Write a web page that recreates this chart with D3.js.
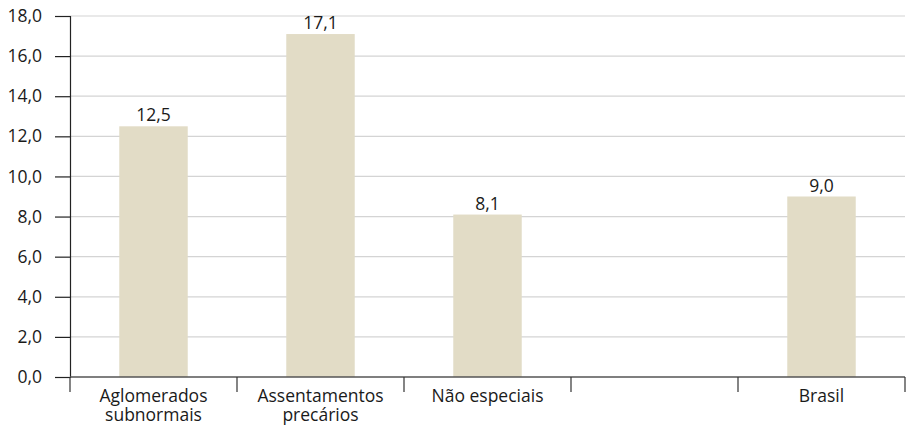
<!DOCTYPE html>
<html>
<head>
<meta charset="utf-8">
<script src="https://cdn.jsdelivr.net/npm/d3@7"></script>
<style>
  body { margin: 0; background: #fff; }
  text { font-family: "Open Sans", sans-serif; fill: #1a1a1a; }
</style>
</head>
<body>
<div id="chart"></div>
<script>
const categories = ["Aglomerados subnormais", "Assentamentos precários", "Não especiais", "", "Brasil"];
const values = [12.5, 17.1, 8.1, null, 9.0];
const yTicks = [0, 2, 4, 6, 8, 10, 12, 14, 16, 18];

const width = 908, height = 425;
const margin = {top: 16, right: 3, bottom: 48, left: 70};
const fontSize = "17.5px";

const svg = d3.select("#chart").append("svg")
  .attr("width", width)
  .attr("height", height);

const x = d3.scaleBand()
  .domain(d3.range(categories.length))
  .range([margin.left, width - margin.right])
  .paddingInner(0)
  .paddingOuter(0);

const y = d3.scaleLinear()
  .domain([0, 18])
  .range([height - margin.bottom, margin.top]);

const fmt = d => d.toFixed(1).replace(".", ",");

// gridlines
svg.append("g")
  .selectAll("line")
  .data(yTicks.slice(1))
  .enter().append("line")
  .attr("x1", margin.left)
  .attr("x2", width - margin.right)
  .attr("y1", d => y(d))
  .attr("y2", d => y(d))
  .style("stroke", "#d4d4d4")
  .style("stroke-width", 1.2);

// bars
const barW = x.bandwidth() * 0.41;
const data = categories.map((c, i) => ({c, v: values[i], i})).filter(d => d.v != null);

svg.append("g")
  .selectAll("rect")
  .data(data)
  .enter().append("rect")
  .attr("x", d => x(d.i) + x.bandwidth() / 2 - barW / 2)
  .attr("width", barW)
  .attr("y", d => y(d.v))
  .attr("height", d => y(0) - y(d.v))
  .style("fill", "#e2dcc6");

// value labels
svg.append("g")
  .selectAll("text")
  .data(data)
  .enter().append("text")
  .attr("x", d => x(d.i) + x.bandwidth() / 2)
  .attr("y", d => y(d.v) - 5)
  .attr("text-anchor", "middle")
  .style("font-size", fontSize)
  .text(d => fmt(d.v));

// y axis
const yAxis = svg.append("g")
  .attr("transform", `translate(${margin.left},0)`)
  .call(d3.axisLeft(y).tickValues(yTicks).tickFormat(fmt).tickSize(15).tickPadding(13));
yAxis.select(".domain").style("stroke", "#222").style("stroke-width", 1.2);
yAxis.selectAll(".tick line").style("stroke", "#222").style("stroke-width", 1.2);
yAxis.selectAll(".tick text")
  .style("font-size", fontSize)
  .style("font-family", "'Open Sans', sans-serif")
  .attr("fill", "#1a1a1a");

// x axis baseline
svg.append("line")
  .attr("x1", margin.left)
  .attr("x2", width - margin.right)
  .attr("y1", y(0))
  .attr("y2", y(0))
  .style("stroke", "#555")
  .style("stroke-width", 1.6);

// category separator ticks
const bounds = d3.range(categories.length + 1).map(i => margin.left + i * x.bandwidth());
svg.append("g")
  .selectAll("line")
  .data(bounds)
  .enter().append("line")
  .attr("x1", d => d)
  .attr("x2", d => d)
  .attr("y1", y(0))
  .attr("y2", y(0) + 15)
  .style("stroke", "#333")
  .style("stroke-width", 1.2);

// category labels (wrapped into two lines)
const labels = svg.append("g")
  .selectAll("text")
  .data(categories.map((c, i) => ({c, i})))
  .enter().append("text")
  .attr("text-anchor", "middle")
  .style("font-size", fontSize);

labels.each(function(d) {
  const lines = d.c === "Não especiais" ? [d.c] : d.c.split(" ");
  const t = d3.select(this);
  lines.forEach((w, k) => {
    t.append("tspan")
      .attr("x", x(d.i) + x.bandwidth() / 2)
      .attr("y", y(0) + 25 + k * 18.5)
      .text(w);
  });
});
</script>
</body>
</html>
